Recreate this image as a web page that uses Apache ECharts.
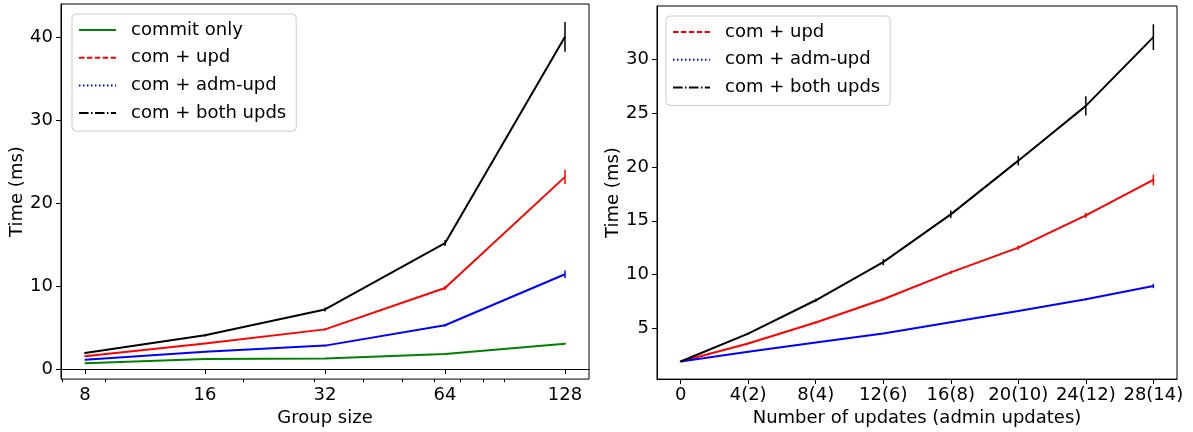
<!DOCTYPE html>
<html>
<head>
<meta charset="utf-8">
<script src="https://cdn.jsdelivr.net/npm/echarts@6/dist/echarts.min.js"></script>
<style>
  html, body { margin: 0; padding: 0; background: #ffffff; }
  #chart { width: 1193px; height: 432px; }
</style>
</head>
<body>
<div id="chart"></div>
<script>
// ---------- Data ----------
// Left panel: time vs group size
const groupSizes = [8, 16, 32, 64, 128];
const commitOnly = [0.72, 1.24, 1.28, 1.84, 3.08];
const commitOnlyErr = [0.05, 0.05, 0.05, 0.08, 0.1];
const comUpd = [1.56, 3.1, 4.8, 9.8, 23.2];
const comUpdErr = [0.1, 0.1, 0.15, 0.25, 0.85];
const comAdmUpd = [1.12, 2.1, 2.84, 5.3, 11.45];
const comAdmUpdErr = [0.05, 0.08, 0.1, 0.15, 0.45];
const comBoth = [1.96, 4.1, 7.2, 15.2, 40.1];
const comBothErr = [0.1, 0.15, 0.25, 0.35, 1.8];
const leftXTicks = [8, 16, 32, 64, 128];
const leftXMinorTicks = [7, 9, 20, 30, 40, 50, 60, 70, 80, 90];
const leftYTicks = [0, 10, 20, 30, 40];

// Right panel: time vs number of updates
const updates = [0, 4, 8, 12, 16, 20, 24, 28];
const updateLabels = ['0', '4(2)', '8(4)', '12(6)', '16(8)', '20(10)', '24(12)', '28(14)'];
const rUpd = [1.9, 3.58, 5.53, 7.7, 10.2, 12.5, 15.5, 18.8];
const rUpdErr = [0.05, 0.08, 0.1, 0.12, 0.15, 0.2, 0.25, 0.5];
const rAdm = [1.9, 2.8, 3.67, 4.5, 5.55, 6.6, 7.7, 8.93];
const rAdmErr = [0.03, 0.05, 0.05, 0.05, 0.07, 0.08, 0.1, 0.2];
const rBoth = [1.9, 4.5, 7.6, 11.15, 15.6, 20.6, 25.7, 32.1];
const rBothErr = [0.05, 0.1, 0.15, 0.3, 0.35, 0.45, 0.9, 1.2];
const rightYTicks = [5, 10, 15, 20, 25, 30];

// ---------- Styling ----------
const FONT = 'DejaVu Sans';
const FS = 18;
const GREEN = '#008000', RED = '#ff0000', BLUE = '#0000ff', BLACK = '#000000';
const DASH = [5.5, 2.4], DOT = [1.5, 2.5], DASHDOT = [9.6, 2.4, 1.5, 2.4];

function pairs(xs, ys) { return xs.map((x, i) => [x, ys[i]]); }
function errData(xs, ys, es) { return xs.map((x, i) => [x, ys[i] - es[i], ys[i] + es[i]]); }

function lineSeries(name, xs, ys, color, xi, yi) {
  return {
    type: 'line', name: name, xAxisIndex: xi, yAxisIndex: yi,
    data: pairs(xs, ys), symbol: 'none', silent: true, animation: false,
    lineStyle: { color: color, width: 2, type: 'solid' },
    itemStyle: { color: color }, z: 3
  };
}
function errSeries(xs, ys, es, color, xi, yi) {
  return {
    type: 'custom', xAxisIndex: xi, yAxisIndex: yi, silent: true, animation: false,
    data: errData(xs, ys, es), encode: { x: 0, y: [1, 2] }, z: 4,
    renderItem: function (params, api) {
      const p1 = api.coord([api.value(0), api.value(1)]);
      const p2 = api.coord([api.value(0), api.value(2)]);
      return { type: 'line', shape: { x1: p1[0], y1: p1[1], x2: p2[0], y2: p2[1] },
               style: { stroke: color, lineWidth: 1.5 } };
    }
  };
}

const axisText = { color: '#000', fontFamily: FONT, fontSize: FS };

function legendItem(name, type) {
  return { name: name, lineStyle: { type: type, width: 2 },
           itemStyle: { opacity: 0, color: 'rgba(0,0,0,0)', borderWidth: 0 } };
}
const legendCommon = {
  orient: 'vertical', selectedMode: false,
  itemWidth: 37, itemHeight: 14, itemGap: 5.7,
  backgroundColor: 'rgba(255,255,255,0.8)', borderColor: '#cccccc', borderWidth: 1, borderRadius: 4,
  textStyle: { color: '#000', fontFamily: FONT, fontSize: FS, lineHeight: 22, padding: [0, 0, 0, 10] }
};

const option = {
  backgroundColor: '#ffffff',
  animation: false,
  grid: [
    { left: 61, top: 4, width: 528, height: 377, show: true, borderColor: '#000', borderWidth: 1, backgroundColor: 'transparent' },
    { left: 657, top: 6, width: 520, height: 374, show: true, borderColor: '#000', borderWidth: 1, backgroundColor: 'transparent' }
  ],
  legend: [
    Object.assign({}, legendCommon, {
      left: 72, top: 14, padding: [5, 10, 7, 6],
      data: [legendItem('commit only', 'solid'), legendItem('com + upd', DASH),
             legendItem('com + adm-upd', DOT), legendItem('com + both upds', DASHDOT)]
    }),
    Object.assign({}, legendCommon, {
      left: 666, top: 16, padding: [5, 10, 7, 6],
      data: [legendItem('com + upd', DASH), legendItem('com + adm-upd', DOT), legendItem('com + both upds', DASHDOT)]
    })
  ],
  xAxis: [
    {
      gridIndex: 0, type: 'log', logBase: 2, min: Math.pow(2, 2.8), max: Math.pow(2, 7.2),
      name: 'Group size', nameLocation: 'middle', nameGap: 29, nameTextStyle: axisText,
      axisLine: { show: true, lineStyle: { color: '#000', width: 1 } },
      axisTick: { show: true, length: 5, lineStyle: { color: '#000' }, customValues: leftXTicks },
      axisLabel: Object.assign({ margin: 7, customValues: leftXTicks, formatter: v => String(Math.round(v)) }, axisText),
      splitLine: { show: false }, minorTick: { show: false }
    },
    {
      gridIndex: 0, type: 'log', logBase: 2, min: Math.pow(2, 2.8), max: Math.pow(2, 7.2), position: 'bottom',
      axisLine: { show: false },
      axisTick: { show: true, length: 3, lineStyle: { color: '#000' }, customValues: leftXMinorTicks },
      axisLabel: { show: false },
      splitLine: { show: false }
    },
    {
      gridIndex: 1, type: 'value', min: -1.4, max: 29.4,
      name: 'Number of updates (admin updates)', nameLocation: 'middle', nameGap: 29, nameTextStyle: axisText,
      axisLine: { show: true, onZero: false, lineStyle: { color: '#000', width: 1 } },
      axisTick: { show: true, length: 5, lineStyle: { color: '#000' }, customValues: updates },
      axisLabel: Object.assign({ margin: 7, customValues: updates,
        formatter: v => { const i = updates.indexOf(Math.round(v)); return i >= 0 ? updateLabels[i] : ''; } }, axisText),
      splitLine: { show: false }
    }
  ],
  yAxis: [
    {
      gridIndex: 0, type: 'value', min: -1.2, max: 44.06,
      name: 'Time (ms)', nameLocation: 'middle', nameGap: 35, nameTextStyle: axisText,
      axisLine: { show: true, onZero: false, lineStyle: { color: '#000', width: 1 } },
      axisTick: { show: true, length: 5, lineStyle: { color: '#000' }, customValues: leftYTicks },
      axisLabel: Object.assign({ margin: 8, customValues: leftYTicks }, axisText),
      splitLine: { show: false }
    },
    {
      gridIndex: 1, type: 'value', min: 0.26, max: 35.0,
      name: 'Time (ms)', nameLocation: 'middle', nameGap: 34, nameTextStyle: axisText,
      axisLine: { show: true, onZero: false, lineStyle: { color: '#000', width: 1 } },
      axisTick: { show: true, length: 5, lineStyle: { color: '#000' }, customValues: rightYTicks },
      axisLabel: Object.assign({ margin: 8, customValues: rightYTicks }, axisText),
      splitLine: { show: false }
    }
  ],
  series: [
    lineSeries('commit only', groupSizes, commitOnly, GREEN, 0, 0),
    lineSeries('com + upd', groupSizes, comUpd, RED, 0, 0),
    lineSeries('com + adm-upd', groupSizes, comAdmUpd, BLUE, 0, 0),
    lineSeries('com + both upds', groupSizes, comBoth, BLACK, 0, 0),
    errSeries(groupSizes, commitOnly, commitOnlyErr, GREEN, 0, 0),
    errSeries(groupSizes, comUpd, comUpdErr, RED, 0, 0),
    errSeries(groupSizes, comAdmUpd, comAdmUpdErr, BLUE, 0, 0),
    errSeries(groupSizes, comBoth, comBothErr, BLACK, 0, 0),

    lineSeries('com + upd', updates, rUpd, RED, 2, 1),
    lineSeries('com + adm-upd', updates, rAdm, BLUE, 2, 1),
    lineSeries('com + both upds', updates, rBoth, BLACK, 2, 1),
    errSeries(updates, rUpd, rUpdErr, RED, 2, 1),
    errSeries(updates, rAdm, rAdmErr, BLUE, 2, 1),
    errSeries(updates, rBoth, rBothErr, BLACK, 2, 1)
  ]
};

const chart = echarts.init(document.getElementById('chart'), null, { renderer: 'canvas' });
chart.setOption(option);
</script>
</body>
</html>
